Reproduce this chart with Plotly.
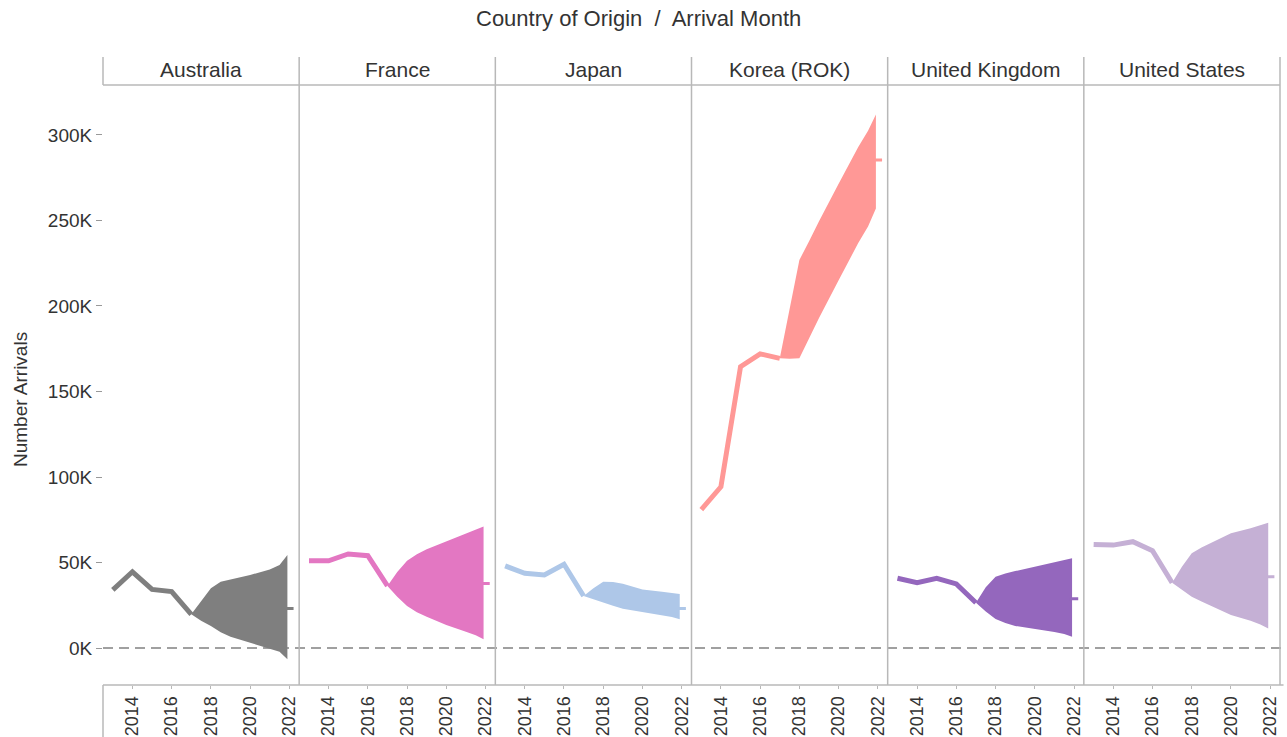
import plotly.graph_objects as go
from plotly.subplots import make_subplots

# ---------------- data (values in thousands of arrivals) ----------------
countries = ["Australia", "France", "Japan", "Korea (ROK)", "United Kingdom", "United States"]
colors = ["#7f7f7f", "#e377c2", "#aec7e8", "#ff9896", "#9467bd", "#c5b0d5"]

actual_years = [2013, 2014, 2015, 2016, 2017]
forecast_years = [2017, 2017.5, 2018, 2018.5, 2019, 2020, 2021, 2021.5, 2021.9]
estimate_year = 2022

aus_actual = [34.0, 44.6, 34.3, 33.0, 19.7]
aus_upper = [19.7, 27.0, 35.0, 38.8, 40.0, 42.7, 46.0, 48.5, 54.4]
aus_lower = [19.7, 16.0, 12.9, 9.3, 6.6, 3.1, 0.0, -2.1, -6.6]
aus_est = 23.2

fra_actual = [51.0, 51.0, 55.0, 54.0, 36.3]
fra_upper = [36.3, 44.5, 51.0, 54.8, 57.7, 62.2, 66.7, 68.8, 71.0]
fra_lower = [36.3, 30.0, 24.6, 21.0, 18.3, 13.5, 9.6, 7.5, 5.1]
fra_est = 37.8

jpn_actual = [48.0, 43.7, 42.7, 49.0, 30.4]
jpn_upper = [30.4, 35.0, 38.8, 38.6, 37.6, 34.3, 32.9, 32.3, 31.6]
jpn_lower = [30.4, 28.4, 26.7, 24.8, 23.0, 21.0, 19.3, 18.2, 16.8]
jpn_est = 23.2

kor_actual = [81.0, 94.3, 164.5, 172.0, 169.4]
kor_upper = [169.4, 198.6, 226.9, 238.0, 249.5, 271.4, 293.0, 302.5, 312.0]
kor_lower = [169.4, 169.2, 169.5, 181.0, 193.0, 215.0, 236.8, 246.5, 257.0]
kor_est = 285.4

gbr_actual = [40.8, 38.2, 40.8, 37.5, 26.5]
gbr_upper = [26.5, 35.5, 41.7, 43.6, 45.0, 47.5, 50.1, 51.3, 52.5]
gbr_lower = [26.5, 21.3, 17.0, 14.6, 12.9, 11.3, 9.4, 8.2, 6.6]
gbr_est = 28.9

usa_actual = [60.6, 60.2, 62.2, 56.9, 38.2]
usa_upper = [38.2, 47.5, 55.4, 58.8, 61.6, 67.1, 70.0, 71.6, 73.3]
usa_lower = [38.2, 34.3, 30.0, 27.2, 24.6, 19.3, 16.0, 13.8, 11.5]
usa_est = 41.7

actuals = [aus_actual, fra_actual, jpn_actual, kor_actual, gbr_actual, usa_actual]
uppers = [aus_upper, fra_upper, jpn_upper, kor_upper, gbr_upper, usa_upper]
lowers = [aus_lower, fra_lower, jpn_lower, kor_lower, gbr_lower, usa_lower]
estimates = [aus_est, fra_est, jpn_est, kor_est, gbr_est, usa_est]

x_tickvals = [2014, 2016, 2018, 2020, 2022]
x_ticktext = ["2014", "2016", "2018", "2020", "2022"]
y_tickvals = [0, 50, 100, 150, 200, 250, 300]
y_ticktext = ["0K", "50K", "100K", "150K", "200K", "250K", "300K"]

FONT = "Liberation Sans, Arial, sans-serif"
TXT = "#333333"
GRID = "#b8b8b8"

# ---------------- figure ----------------
n = len(countries)
fig = make_subplots(rows=1, cols=n, shared_yaxes=True, horizontal_spacing=0)

for i in range(n):
    c = colors[i]
    col = i + 1
    fig.add_trace(go.Scatter(x=forecast_years, y=lowers[i], mode="lines",
                             line=dict(width=0, color=c), showlegend=False,
                             hoverinfo="skip"), row=1, col=col)
    fig.add_trace(go.Scatter(x=forecast_years, y=uppers[i], mode="lines",
                             line=dict(width=0, color=c), fill="tonexty",
                             fillcolor=c, showlegend=False, hoverinfo="skip"),
                  row=1, col=col)
    fig.add_trace(go.Scatter(x=actual_years, y=actuals[i], mode="lines",
                             line=dict(width=5, color=c), showlegend=False,
                             name=countries[i]), row=1, col=col)
    fig.add_trace(go.Scatter(x=[estimate_year], y=[estimates[i]], mode="markers",
                             marker=dict(symbol="line-ew", size=6,
                                         line=dict(width=3, color=c)),
                             showlegend=False), row=1, col=col)
    fig.update_xaxes(range=[2012.5, 2022.5], tickvals=x_tickvals, ticktext=x_ticktext,
                     tickangle=-90, ticks="outside", ticklen=3, tickcolor=GRID,
                     showgrid=False, zeroline=False, showline=False,
                     tickfont=dict(family=FONT, size=18, color=TXT),
                     automargin=False, fixedrange=True, row=1, col=col)
    fig.update_yaxes(range=[-21.6, 329.2], tickvals=y_tickvals, ticktext=y_ticktext,
                     ticks="outside" if i == 0 else "", ticklen=6, tickcolor="#999999",
                     showgrid=False, zeroline=False, showline=False,
                     tickfont=dict(family=FONT, size=19, color=TXT),
                     automargin=False, fixedrange=True, row=1, col=col)

shapes = []
# zero reference line
shapes.append(dict(type="line", xref="paper", yref="y", x0=0, x1=1.005, y0=0, y1=0,
                   line=dict(color="#a0a0a0", width=2, dash="10px,6px"), layer="below"))
hdr_top = (685 - 57) / 600
# panel separators (incl. right border) spanning header + plot
for k in range(1, n + 1):
    shapes.append(dict(type="line", xref="paper", yref="paper", x0=k / n, x1=k / n,
                       y0=0, y1=hdr_top, line=dict(color=GRID, width=1.5)))
# left border: header part and x-axis label part
shapes.append(dict(type="line", xref="paper", yref="paper", x0=0, x1=0,
                   y0=1, y1=hdr_top, line=dict(color=GRID, width=1.5)))
shapes.append(dict(type="line", xref="paper", yref="paper", x0=0, x1=0,
                   y0=-0.1, y1=0, line=dict(color=GRID, width=1.5)))
# header bottom line and x-axis line
shapes.append(dict(type="line", xref="paper", yref="paper", x0=0, x1=1,
                   y0=1, y1=1, line=dict(color=GRID, width=1.5)))
shapes.append(dict(type="line", xref="paper", yref="paper", x0=0, x1=1.003,
                   y0=0, y1=0, line=dict(color=GRID, width=1.5)))

annotations = []
for i in range(n):
    annotations.append(dict(text=countries[i], xref="paper", yref="paper",
                            x=(i + 0.5) / n, y=(685 - 69) / 600, showarrow=False,
                            xanchor="center", yanchor="middle",
                            font=dict(family=FONT, size=21, color=TXT)))
annotations.append(dict(text="Number Arrivals", xref="paper", yref="paper",
                        x=(20 - 103) / 1177, y=(685 - 400) / 600, textangle=-90,
                        showarrow=False, xanchor="center", yanchor="middle",
                        font=dict(family=FONT, size=19, color=TXT)))
annotations.append(dict(text="Country of Origin  /  Arrival Month", xref="paper",
                        yref="paper", x=(638 - 103) / 1177, y=(685 - 19) / 600,
                        showarrow=False, xanchor="center", yanchor="middle",
                        font=dict(family=FONT, size=22, color=TXT)))

fig.update_layout(width=1287, height=737,
                  margin=dict(l=103, r=7, t=85, b=52, autoexpand=False),
                  paper_bgcolor="white", plot_bgcolor="white",
                  shapes=shapes, annotations=annotations, showlegend=False)

fig.write_html("out.html", config={"displayModeBar": False},
               post_script="document.body.style.margin='0';")
